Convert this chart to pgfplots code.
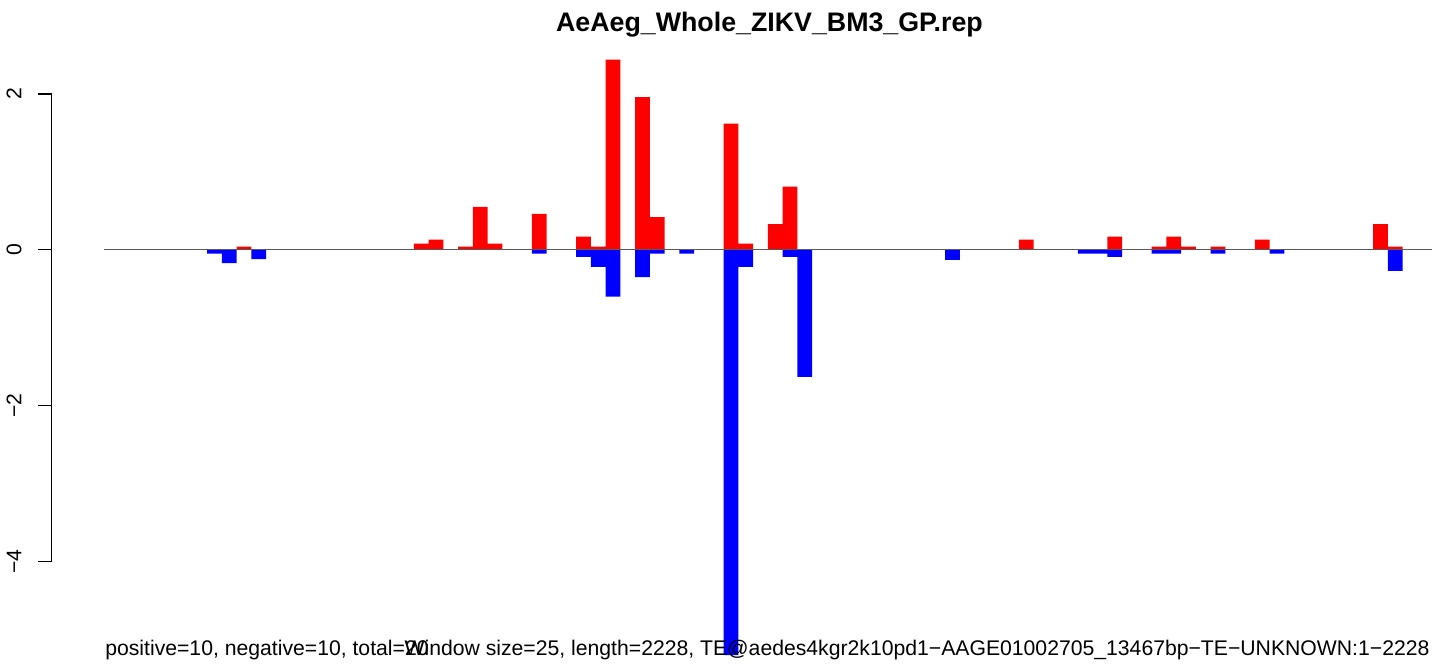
\documentclass[border=0pt]{standalone}
\usepackage{fontspec}
\setmainfont{Liberation Sans}
\usepackage{pgfplots}
\pgfplotsset{compat=1.18}
\tikzset{rtext/.style={font=\fontsize{10.6}{12.5}\selectfont}}

% 1 px of the reference = 0.5pt; windows of 25 bp, bar i spans [i, i+1]
\begin{document}
\begin{tikzpicture}
\begin{axis}[
    width=719.5pt, height=333pt, scale only axis,
    hide axis, clip=false,
    xmin=-6.975, xmax=90.474,
    ymin=-5.333, ymax=3.205,
]
\path (rel axis cs:0,0) rectangle (rel axis cs:1,1);

% positive scores
\addplot[ybar, bar width=1, bar shift=0pt, fill=red, draw=none] coordinates {
  (9.5,0.04) (21.5,0.08) (22.5,0.13) (24.5,0.04) (25.5,0.55) (26.5,0.08)
  (29.5,0.46) (32.5,0.17) (33.5,0.04) (34.5,2.44) (36.5,1.96) (37.5,0.42)
  (42.5,1.62) (43.5,0.08) (45.5,0.33) (46.5,0.81) (62.5,0.13) (68.5,0.17)
  (71.5,0.04) (72.5,0.17) (73.5,0.04) (75.5,0.04) (78.5,0.13) (86.5,0.33)
  (87.5,0.04)
};
% negative scores
\addplot[ybar, bar width=1, bar shift=0pt, fill=blue, draw=none] coordinates {
  (7.5,-0.05) (8.5,-0.17) (10.5,-0.12) (29.5,-0.05) (32.5,-0.09) (33.5,-0.22)
  (34.5,-0.60) (36.5,-0.35) (37.5,-0.05) (39.5,-0.05) (42.5,-5.20) (43.5,-0.22)
  (46.5,-0.09) (47.5,-1.63) (57.5,-0.13) (66.5,-0.05) (67.5,-0.05) (68.5,-0.09)
  (71.5,-0.05) (72.5,-0.05) (75.5,-0.05) (79.5,-0.05) (87.5,-0.27)
};
% zero line
\addplot[black!65, line width=0.5pt] coordinates {(0,0) (90,0)};

% y axis, R style
\draw[line width=0.6pt] (axis cs:-4.436,2) -- (axis cs:-3.555,2)
  -- (axis cs:-3.555,-4) -- (axis cs:-4.436,-4);
\draw[line width=0.6pt] (axis cs:-4.436,0) -- (axis cs:-3.555,0);
\draw[line width=0.6pt] (axis cs:-4.436,-2) -- (axis cs:-3.555,-2);
\node[rtext, rotate=90, anchor=base] at (axis cs:-5.587,2) {2};
\node[rtext, rotate=90, anchor=base] at (axis cs:-5.587,0) {0};
\node[rtext, rotate=90, anchor=base] at (axis cs:-5.587,-2) {−2};
\node[rtext, rotate=90, anchor=base] at (axis cs:-5.587,-4) {−4};

% title and footer
\node[anchor=base, font=\fontsize{13.4}{16}\selectfont\bfseries]
  at (axis cs:45.10,2.795) {AeAeg\_Whole\_ZIKV\_BM3\_GP.rep};
\node[rtext, anchor=base west, inner sep=0pt] at (axis cs:0.068,-5.205)
  {positive=10, negative=10, total=20};
\node[rtext, anchor=base east, inner sep=0pt] at (axis cs:89.86,-5.205)
  {Window size=25, length=2228, TE@aedes4kgr2k10pd1−AAGE01002705\_13467bp−TE−UNKNOWN:1−2228};
\end{axis}
\end{tikzpicture}
\end{document}
